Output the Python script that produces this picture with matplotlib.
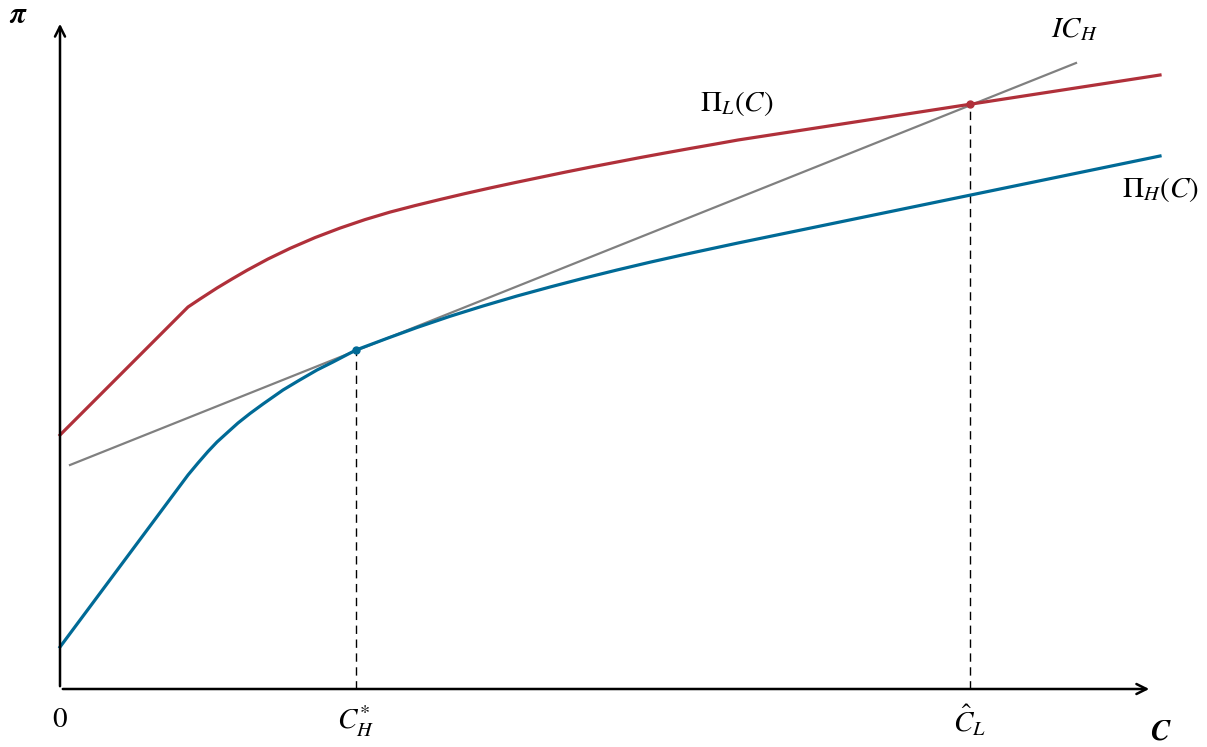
import numpy as np
import matplotlib
matplotlib.use("Agg")
import matplotlib.pyplot as plt

plt.rcParams["mathtext.fontset"] = "stix"
plt.rcParams["font.family"] = "STIXGeneral"

# Profit curve Pi_L(C) (red)
red_x = [0.00, 1.28, 1.40, 1.57, 1.72, 1.87, 2.08, 2.30, 2.55, 2.80, 3.05, 3.30, 3.55,
         3.80, 4.05, 4.30, 4.55, 4.80, 5.05, 5.30, 5.55, 5.80, 6.05, 6.30, 6.54, 6.78, 11.00]
red_y = [2.54, 3.82, 3.90, 4.01, 4.10, 4.187, 4.30, 4.406, 4.514, 4.609, 4.694, 4.769, 4.834,
         4.895, 4.954, 5.01, 5.064, 5.116, 5.168, 5.218, 5.266, 5.314, 5.36, 5.405, 5.447, 5.49, 6.14]

# Profit curve Pi_H(C) (blue)
blue_x = [0.00, 1.28, 1.38, 1.48, 1.57, 1.68, 1.78, 1.90, 2.03, 2.23, 2.38, 2.57, 2.73, 2.96,
          3.27, 3.57, 3.90, 4.23, 4.57, 4.90, 5.23, 5.57, 5.90, 6.23, 6.50, 6.78, 11.00]
blue_y = [0.42, 2.14, 2.26, 2.375, 2.47, 2.57, 2.66, 2.755, 2.85, 2.99, 3.08, 3.19, 3.27, 3.39,
          3.506, 3.615, 3.727, 3.83, 3.93, 4.02, 4.106, 4.19, 4.268, 4.342, 4.40, 4.46, 5.33]

# indifference line IC_H
ic_x = [0.10, 10.16]
ic_y = [2.24, 6.26]

# marked points: C_H^* and C_L hat
pt_x = [2.96, 9.10]
pt_y = [3.39, 5.85]
pt_lab = [r"$C_H^{*}$", r"$\hat{C}_L$"]

col_red = "#b0303a"
col_blue = "#006a96"

fig = plt.figure(figsize=(12.07, 7.47), dpi=100)
ax = fig.add_axes([0, 0, 1, 1])
ax.set_xlim(-0.60, 11.47)
ax.set_ylim(-0.58, 6.89)
ax.axis("off")

# axes with arrows
ax.annotate("", xy=(10.92, 0), xytext=(0, 0),
            arrowprops=dict(arrowstyle="->", lw=1.8, color="black", mutation_scale=18))
ax.annotate("", xy=(0, 6.68), xytext=(0, 0),
            arrowprops=dict(arrowstyle="->", lw=1.8, color="black", mutation_scale=18))

# dashed guides
for x, y in zip(pt_x, pt_y):
    ax.plot([x, x], [0, y], color="black", lw=1.0, ls=(0, (6, 4)))

ax.plot(ic_x, ic_y, color="#808080", lw=1.6)
ax.plot(red_x, red_y, color=col_red, lw=2.3, solid_joinstyle="round")
ax.plot(blue_x, blue_y, color=col_blue, lw=2.3, solid_joinstyle="round")

ax.plot(pt_x[0], pt_y[0], "o", color=col_blue, ms=5)
ax.plot(pt_x[1], pt_y[1], "o", color=col_red, ms=5)

fs = 21
ax.text(0, -0.31, "0", fontsize=fs, ha="center", va="center")
for x, lab in zip(pt_x, pt_lab):
    ax.text(x, -0.32, lab, fontsize=fs, ha="center", va="center")
ax.text(10.15, 6.59, r"$IC_H$", fontsize=fs, ha="center", va="center")
ax.text(6.77, 5.86, r"$\Pi_L(C)$", fontsize=fs, ha="center", va="center")
ax.text(11.0, 4.99, r"$\Pi_H(C)$", fontsize=fs, ha="center", va="center")
ax.text(-0.43, 6.74, "π", fontsize=fs, ha="center", va="center",
        fontweight="bold", fontstyle="italic")
ax.text(11.0, -0.43, "C", fontsize=fs, ha="center", va="center",
        fontweight="bold", fontstyle="italic")

fig.savefig("out.png", dpi=100)
